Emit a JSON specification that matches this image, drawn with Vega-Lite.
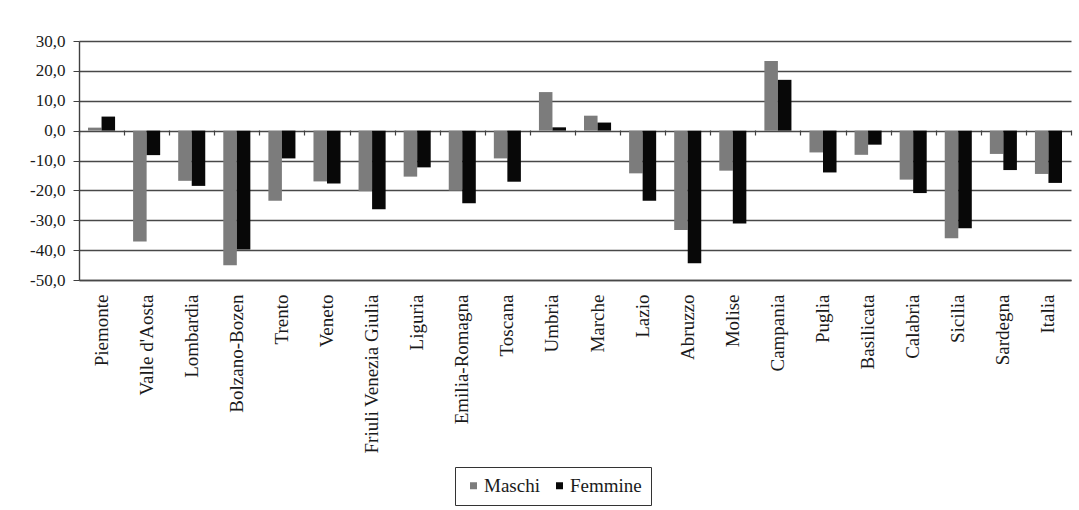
{
  "$schema": "https://vega.github.io/schema/vega-lite/v6.json",
  "width": 992,
  "height": 239,
  "autosize": {"type": "none"},
  "padding": {"left": 79, "top": 41, "right": 8, "bottom": 230},
  "background": "white",
  "config": {
    "view": {"stroke": null},
    "font": "Liberation Serif, Times New Roman, serif",
    "legend": {"labelFont": "Liberation Serif, Times New Roman, serif"},
    "axis": {"labelFont": "Liberation Serif, Times New Roman, serif"}
  },
  "data": {
    "values": [
      {"regione": "Piemonte", "sesso": "Maschi", "valore": 1.0},
      {"regione": "Piemonte", "sesso": "Femmine", "valore": 4.7},
      {"regione": "Valle d'Aosta", "sesso": "Maschi", "valore": -37.1},
      {"regione": "Valle d'Aosta", "sesso": "Femmine", "valore": -8.2},
      {"regione": "Lombardia", "sesso": "Maschi", "valore": -16.8},
      {"regione": "Lombardia", "sesso": "Femmine", "valore": -18.5},
      {"regione": "Bolzano-Bozen", "sesso": "Maschi", "valore": -45.1},
      {"regione": "Bolzano-Bozen", "sesso": "Femmine", "valore": -39.8},
      {"regione": "Trento", "sesso": "Maschi", "valore": -23.5},
      {"regione": "Trento", "sesso": "Femmine", "valore": -9.3},
      {"regione": "Veneto", "sesso": "Maschi", "valore": -17.0},
      {"regione": "Veneto", "sesso": "Femmine", "valore": -17.7},
      {"regione": "Friuli Venezia Giulia", "sesso": "Maschi", "valore": -20.3},
      {"regione": "Friuli Venezia Giulia", "sesso": "Femmine", "valore": -26.3},
      {"regione": "Liguria", "sesso": "Maschi", "valore": -15.4},
      {"regione": "Liguria", "sesso": "Femmine", "valore": -12.3},
      {"regione": "Emilia-Romagna", "sesso": "Maschi", "valore": -20.1},
      {"regione": "Emilia-Romagna", "sesso": "Femmine", "valore": -24.3},
      {"regione": "Toscana", "sesso": "Maschi", "valore": -9.3},
      {"regione": "Toscana", "sesso": "Femmine", "valore": -17.1},
      {"regione": "Umbria", "sesso": "Maschi", "valore": 12.9},
      {"regione": "Umbria", "sesso": "Femmine", "valore": 1.1},
      {"regione": "Marche", "sesso": "Maschi", "valore": 5.0},
      {"regione": "Marche", "sesso": "Femmine", "valore": 2.7},
      {"regione": "Lazio", "sesso": "Maschi", "valore": -14.3},
      {"regione": "Lazio", "sesso": "Femmine", "valore": -23.5},
      {"regione": "Abruzzo", "sesso": "Maschi", "valore": -33.3},
      {"regione": "Abruzzo", "sesso": "Femmine", "valore": -44.4},
      {"regione": "Molise", "sesso": "Maschi", "valore": -13.4},
      {"regione": "Molise", "sesso": "Femmine", "valore": -31.1},
      {"regione": "Campania", "sesso": "Maschi", "valore": 23.3},
      {"regione": "Campania", "sesso": "Femmine", "valore": 17.0},
      {"regione": "Puglia", "sesso": "Maschi", "valore": -7.3},
      {"regione": "Puglia", "sesso": "Femmine", "valore": -14.0},
      {"regione": "Basilicata", "sesso": "Maschi", "valore": -8.1},
      {"regione": "Basilicata", "sesso": "Femmine", "valore": -4.7},
      {"regione": "Calabria", "sesso": "Maschi", "valore": -16.4},
      {"regione": "Calabria", "sesso": "Femmine", "valore": -20.9},
      {"regione": "Sicilia", "sesso": "Maschi", "valore": -36.0},
      {"regione": "Sicilia", "sesso": "Femmine", "valore": -32.7},
      {"regione": "Sardegna", "sesso": "Maschi", "valore": -7.8},
      {"regione": "Sardegna", "sesso": "Femmine", "valore": -13.2},
      {"regione": "Italia", "sesso": "Maschi", "valore": -14.5},
      {"regione": "Italia", "sesso": "Femmine", "valore": -17.5}
    ]
  },
  "layer": [
    {
      "mark": {"type": "bar"},
      "encoding": {
        "x": {
          "field": "regione",
          "type": "nominal",
          "sort": null,
          "scale": {"paddingInner": 0.4, "paddingOuter": 0.2},
          "axis": {
            "title": null,
            "labelAngle": -90,
            "labelPadding": 14,
            "labelFontSize": 19,
            "labelColor": "#1a1a1a",
            "ticks": false,
            "domain": true,
            "domainColor": "#484848",
            "domainWidth": 1.4,
            "grid": false
          }
        },
        "xOffset": {
          "field": "sesso",
          "sort": ["Maschi", "Femmine"],
          "scale": {"paddingInner": 0, "paddingOuter": 0}
        },
        "y": {
          "field": "valore",
          "type": "quantitative",
          "scale": {"domain": [-50, 30], "nice": false, "zero": false},
          "axis": {
            "title": null,
            "values": [-50, -40, -30, -20, -10, 0, 10, 20, 30],
            "tickCount": 12,
            "labelOverlap": false,
            "labelExpr": "replace(replace(format(datum.value, '.1f'), '.', ','), '\u2212', '-')",
            "labelFontSize": 17,
            "labelColor": "#1a1a1a",
            "labelPadding": 8,
            "tickSize": 6,
            "tickColor": "#404040",
            "domainColor": "#404040",
            "domainWidth": 1.4,
            "grid": true,
            "gridColor": "#484848",
            "gridWidth": 1.4
          }
        },
        "color": {
          "field": "sesso",
          "type": "nominal",
          "scale": {"domain": ["Maschi", "Femmine"], "range": ["#7c7c7c", "#080808"]},
          "legend": {
            "title": null,
            "orient": "none",
            "legendX": 376,
            "legendY": 426,
            "direction": "horizontal",
            "strokeColor": "#333333",
            "padding": 9,
            "symbolType": "square",
            "symbolSize": 49,
            "symbolStrokeWidth": 0,
            "labelFontSize": 19,
            "labelColor": "#1a1a1a",
            "labelOffset": 1,
            "columnPadding": 10
          }
        }
      }
    },
    {
      "mark": {"type": "point", "opacity": 0},
      "encoding": {
        "x": {
          "field": "regione",
          "type": "nominal",
          "sort": null,
          "scale": {"type": "band", "paddingInner": 0, "paddingOuter": 0},
          "axis": {
            "title": null,
            "orient": "bottom",
            "offset": -150,
            "labels": false,
            "domain": false,
            "grid": false,
            "ticks": true,
            "tickBand": "extent",
            "tickSize": 5,
            "tickColor": "#404040",
            "tickWidth": 1.2
          }
        },
        "y": {"datum": 0}
      }
    }
  ],
  "resolve": {"scale": {"x": "independent"}}
}
